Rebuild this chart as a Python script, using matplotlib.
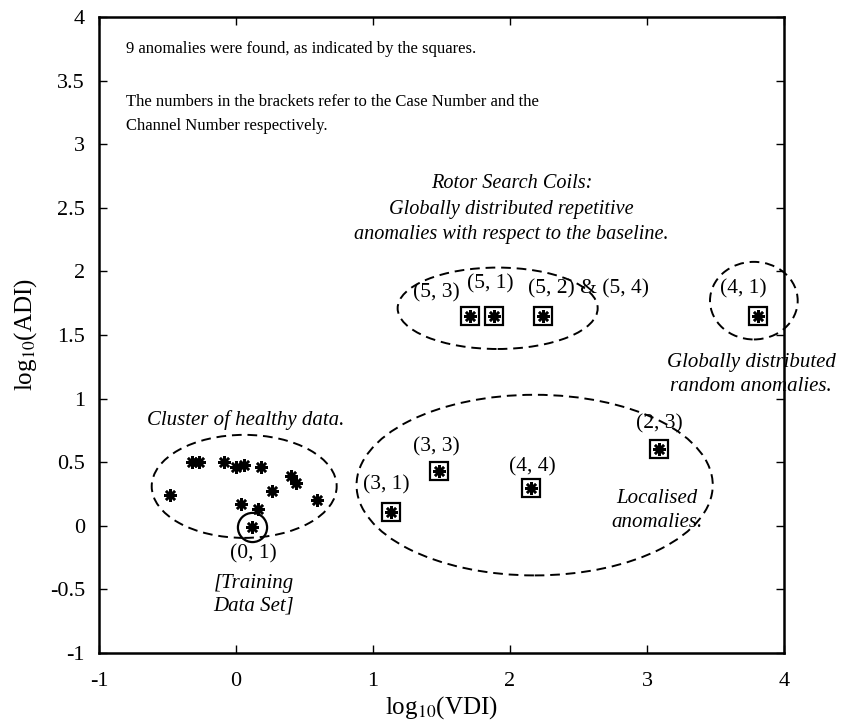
import matplotlib
matplotlib.use("Agg")
import matplotlib.pyplot as plt
from matplotlib.patches import Ellipse

plt.rcParams['font.family'] = ['Liberation Serif', 'DejaVu Serif']
plt.rcParams['mathtext.fontset'] = 'stix'
plt.rcParams['axes.unicode_minus'] = False

# healthy data cluster (log10 VDI, log10 ADI)
healthy_x = [-0.48, -0.32, -0.27, -0.09, 0.00, 0.06, 0.18, 0.40, 0.44, 0.26, 0.59, 0.04, 0.16]
healthy_y = [0.24, 0.50, 0.50, 0.50, 0.46, 0.48, 0.46, 0.39, 0.34, 0.27, 0.20, 0.17, 0.13]

# training data set (0, 1)
train_x = [0.12]
train_y = [-0.01]

# anomalies (boxed)
anom_labels = ["(5, 3)", "(5, 1)", "(5, 2) & (5, 4)", "(4, 1)", "(3, 1)", "(3, 3)", "(4, 4)", "(2, 3)"]
anom_x = [1.71, 1.88, 2.24, 3.81, 1.13, 1.48, 2.15, 3.09]
anom_y = [1.65, 1.65, 1.65, 1.65, 0.11, 0.43, 0.30, 0.60]

fig = plt.figure(figsize=(8.43, 7.23), dpi=100)
ax = fig.add_axes([0.1174, 0.0968, 0.8126, 0.8797])

star = (8, 2, 0)
ax.plot(healthy_x, healthy_y, linestyle='none', marker=star, markersize=9,
        markeredgewidth=1.8, color='black')
ax.plot(train_x, train_y, linestyle='none', marker=star, markersize=9,
        markeredgewidth=1.8, color='black')
ax.plot(train_x, train_y, linestyle='none', marker='o', markersize=21,
        markerfacecolor='none', markeredgewidth=1.6, color='black')
ax.plot(anom_x, anom_y, linestyle='none', marker=star, markersize=9,
        markeredgewidth=1.8, color='black')
ax.plot(anom_x, anom_y, linestyle='none', marker='s', markersize=12.5,
        markerfacecolor='none', markeredgewidth=1.6, color='black')

# dashed ellipses
for cx, cy, w, h in [(0.06, 0.31, 1.35, 0.81), (1.91, 1.71, 1.46, 0.64),
                     (3.78, 1.77, 0.64, 0.61), (2.18, 0.32, 2.60, 1.42)]:
    ax.add_patch(Ellipse((cx, cy), w, h, fill=False, linestyle=(0, (5, 3)),
                         linewidth=1.4, edgecolor='black', clip_on=False))

fs = 12
ifs = 15
lfs = 15.5
ax.text(-0.80, 3.75, "9 anomalies were found, as indicated by the squares.",
        fontsize=fs, ha='left', va='center')
ax.text(-0.80, 3.24, "The numbers in the brackets refer to the Case Number and the\nChannel Number respectively.",
        fontsize=fs, ha='left', va='center', linespacing=1.65)
ax.text(2.01, 2.49, "Rotor Search Coils:\nGlobally distributed repetitive\nanomalies with respect to the baseline.",
        fontsize=14.6, style='italic', ha='center', va='center', linespacing=1.45)
ax.text(3.76, 1.19, "Globally distributed\nrandom anomalies.", fontsize=ifs, style='italic',
        ha='center', va='center', linespacing=1.4, clip_on=False)
ax.text(0.07, 0.83, "Cluster of healthy data.", fontsize=ifs, style='italic',
        ha='center', va='center')
ax.text(0.13, -0.22, "(0, 1)", fontsize=lfs, ha='center', va='center')
ax.text(0.13, -0.54, "[Training\nData Set]", fontsize=ifs, style='italic',
        ha='center', va='center', linespacing=1.25)
ax.text(3.07, 0.12, "Localised\nanomalies.", fontsize=ifs, style='italic',
        ha='center', va='center', linespacing=1.3)

label_pos = [(1.46, 1.83), (1.86, 1.90), (2.57, 1.86), (3.70, 1.86),
             (1.10, 0.32), (1.46, 0.62), (2.16, 0.46), (3.09, 0.80)]
for lab, (lx, ly) in zip(anom_labels, label_pos):
    ax.text(lx, ly, lab, fontsize=lfs, ha='center', va='center')

ax.set_xlim(-1, 4)
ax.set_ylim(-1, 4)
ax.set_xticks([-1, 0, 1, 2, 3, 4])
ax.set_yticks([-1, -0.5, 0, 0.5, 1, 1.5, 2, 2.5, 3, 3.5, 4])
ax.set_yticklabels(["-1", "-0.5", "0", "0.5", "1", "1.5", "2", "2.5", "3", "3.5", "4"])
ax.tick_params(direction='in', top=True, right=True, length=6, width=1, labelsize=16)
ax.tick_params(axis='y', pad=10)
ax.tick_params(axis='x', pad=14)
for s in ax.spines.values():
    s.set_linewidth(1.8)

ax.set_xlabel(r"log$_{10}$(VDI)", fontsize=18, labelpad=2)
ax.set_ylabel(r"log$_{10}$(ADI)", fontsize=18, labelpad=8)

fig.savefig("out.png", dpi=100)
